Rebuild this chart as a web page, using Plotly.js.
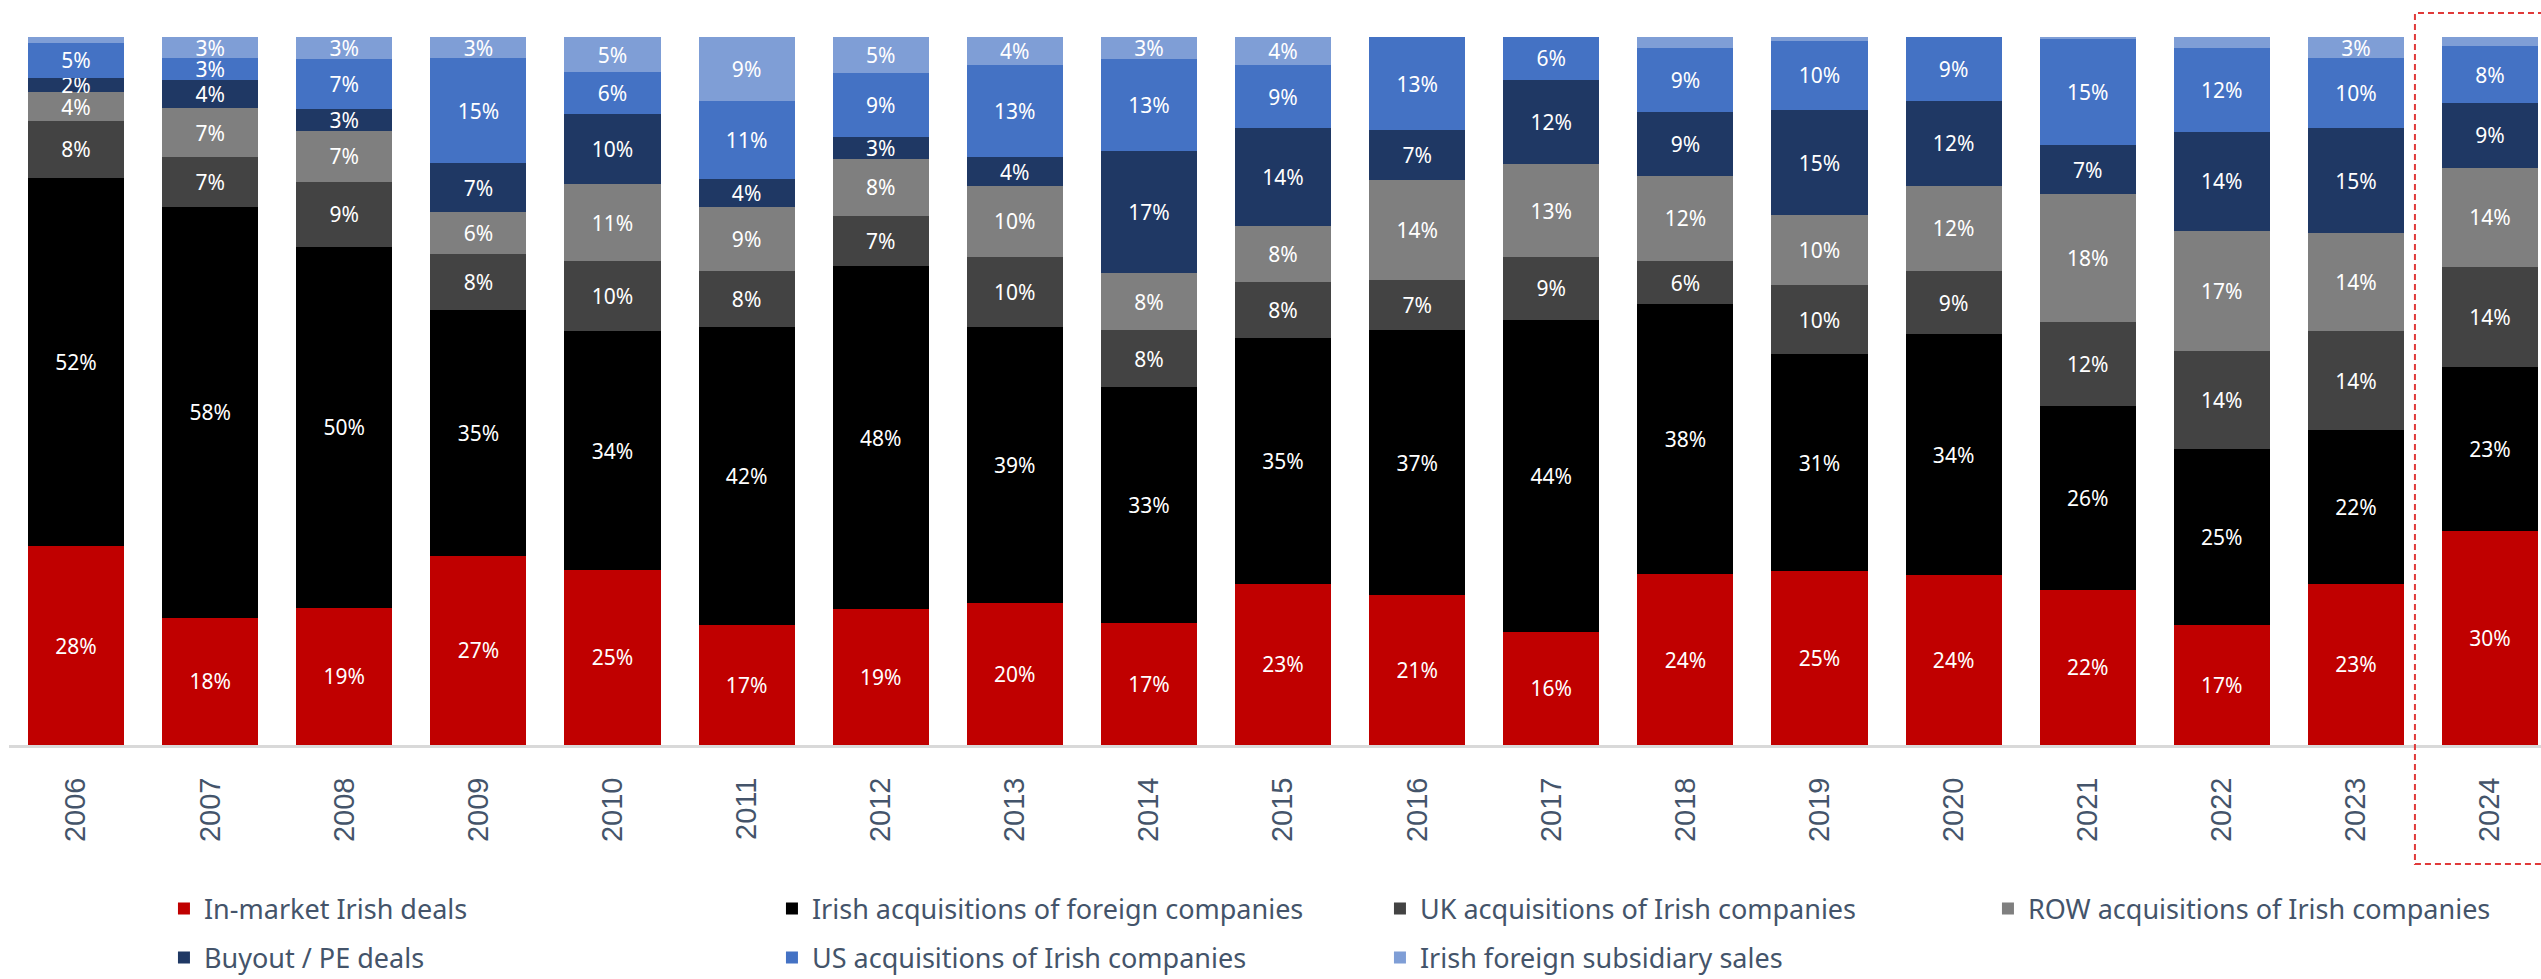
<!DOCTYPE html>
<html>
<head>
<meta charset="utf-8">
<script src="https://cdn.plot.ly/plotly-3.0.1.min.js"></script>
<style>html,body{margin:0;padding:0;background:#fff;}#chart{width:2541px;height:979px;}</style>
</head>
<body>
<div id="chart"></div>
<script>
// ---- data (percent share of deals per year) ----
var years = ['2006','2007','2008','2009','2010','2011','2012','2013','2014','2015','2016','2017','2018','2019','2020','2021','2022','2023','2024'];
var inMarketIrish   = [28,18,19,27,25,17,19,20,17,23,21,16,24,25,24,22,17,23,30];
var irishAcqForeign = [52,58,50,35,34,42,48,39,33,35,37,44,38,31,34,26,25,22,23];
var ukAcqIrish      = [8,7,9,8,10,8,7,10,8,8,7,9,6,10,9,12,14,14,14];
var rowAcqIrish     = [4,7,7,6,11,9,8,10,8,8,14,13,12,10,12,18,17,14,14];
var buyoutPE        = [2,4,3,7,10,4,3,4,17,14,7,12,9,15,12,7,14,15,9];
var usAcqIrish      = [5,3,7,15,6,11,9,13,13,9,13,6,9,10,9,15,12,10,8];
var foreignSubSales = [0.8,3,3,3,5,9,5,4,3,4,0,0,1.5,0.5,0,0.3,1.5,3,1.3];

var seriesNames = ['In-market Irish deals','Irish acquisitions of foreign companies','UK acquisitions of Irish companies','ROW acquisitions of Irish companies','Buyout / PE deals','US acquisitions of Irish companies','Irish foreign subsidiary sales'];
var seriesValues = [inMarketIrish, irishAcqForeign, ukAcqIrish, rowAcqIrish, buyoutPE, usAcqIrish, foreignSubSales];
var seriesColors = ['#c00000','#000000','#434343','#7f7f7f','#1f3864','#4472c4','#7f9ed6'];
var legendIds = ['legend','legend','legend','legend','legend2','legend2','legend2'];

var idx = years.map(function(_, i){ return i; });

var traces = seriesValues.map(function(vals, s){
  return {
    type: 'bar',
    name: seriesNames[s],
    x: idx,
    y: vals,
    text: vals.map(function(v){ return v >= 2 ? Math.round(v) + '%' : ''; }),
    texttemplate: '%{text}',
    textposition: 'inside',
    insidetextanchor: 'middle',
    textangle: 0,
    constraintext: 'none',
    cliponaxis: false,
    textfont: {family: 'Noto Sans, sans-serif', size: 21, color: '#ffffff'},
    marker: {color: seriesColors[s], line: {width: 0}},
    legend: legendIds[s],
    hoverinfo: 'skip'
  };
});

var legendFont = {family: 'Noto Sans, sans-serif', size: 27, color: '#44546a'};

var layout = {
  width: 2541,
  height: 979,
  margin: {l: 9, r: 0, t: 36, b: 234, autoexpand: false},
  paper_bgcolor: '#ffffff',
  plot_bgcolor: '#ffffff',
  barmode: 'stack',
  barnorm: 'percent',
  bargap: 0.284,
  showlegend: true,
  xaxis: {
    range: [-0.5, 18.38],
    tickmode: 'array',
    tickvals: idx,
    ticktext: years,
    tickangle: -90,
    tickfont: {family: 'Liberation Sans, Arial, sans-serif', size: 29, color: '#44546a'},
    ticklabelstandoff: 18,
    ticks: '',
    showgrid: false,
    zeroline: false,
    showline: true,
    linecolor: '#d9d9d9',
    linewidth: 3,
    fixedrange: true
  },
  yaxis: {
    range: [0, 100.15],
    visible: false,
    showgrid: false,
    zeroline: false,
    fixedrange: true
  },
  legend: {
    orientation: 'h',
    x: 0.0612, xanchor: 'left',
    y: -0.2313, yanchor: 'middle',
    entrywidth: 563,
    traceorder: 'normal',
    font: legendFont,
    bgcolor: 'rgba(0,0,0,0)'
  },
  legend2: {
    orientation: 'h',
    x: 0.0612, xanchor: 'left',
    y: -0.3004, yanchor: 'middle',
    entrywidth: 563,
    traceorder: 'normal',
    font: legendFont,
    bgcolor: 'rgba(0,0,0,0)'
  },
  shapes: [{
    type: 'rect',
    xref: 'x', yref: 'paper',
    x0: 17.44, x1: 18.7,
    y0: -0.168, y1: 1.0324,
    line: {color: '#e03a3a', width: 2, dash: '6px,4px'},
    fillcolor: 'rgba(0,0,0,0)',
    layer: 'above'
  }]
};

Plotly.newPlot('chart', traces, layout, {displayModeBar: false, staticPlot: true});
</script>
</body>
</html>
